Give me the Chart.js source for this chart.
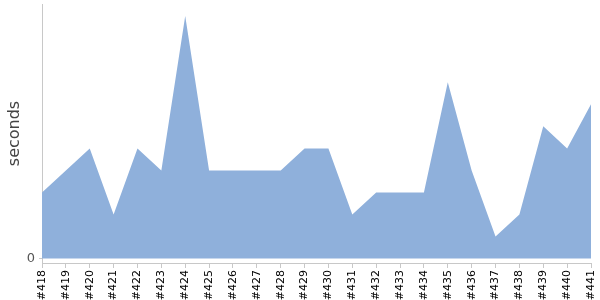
<!DOCTYPE html>
<html>
<head>
<meta charset="utf-8">
<script src="https://cdn.jsdelivr.net/npm/chart.js@4"></script>
<style>
    html, body { margin: 0; padding: 0; background: #fff; }
    #wrap { width: 600px; height: 300px; }
</style>
</head>
<body>
<div id="wrap"><canvas id="buildChart"></canvas></div>
<script>
const builds = ['#418', '#419', '#420', '#421', '#422', '#423', '#424', '#425', '#426', '#427', '#428', '#429',
    '#430', '#431', '#432', '#433', '#434', '#435', '#436', '#437', '#438', '#439', '#440', '#441'];
const durations = [3, 4, 5, 2, 5, 4, 11, 4, 4, 4, 4, 5, 5, 2, 3, 3, 3, 8, 4, 1, 2, 6, 5, 7];
const yTicks = [0];

Chart.defaults.font.family = "'DejaVu Sans', sans-serif";

const ctx = document.getElementById('buildChart').getContext('2d');
new Chart(ctx, {
    type: 'line',
    data: {
        labels: builds,
        datasets: [{
            data: durations,
            fill: 'origin',
            backgroundColor: 'rgb(143,176,219)',
            borderColor: 'rgb(143,176,219)',
            borderWidth: 0,
            pointRadius: 0,
            tension: 0
        }]
    },
    options: {
        responsive: true,
        maintainAspectRatio: false,
        animation: false,
        layout: { padding: { top: 4, right: 9 } },
        plugins: {
            legend: { display: false },
            tooltip: { enabled: false }
        },
        scales: {
            x: {
                offset: false,
                grid: { drawOnChartArea: false, drawTicks: true, tickLength: 5, color: '#c8c8c8' },
                border: { color: '#c8c8c8' },
                ticks: {
                    autoSkip: false,
                    minRotation: 90,
                    maxRotation: 90,
                    padding: 2,
                    color: '#000',
                    font: { size: 11 }
                },
                afterFit: function (axis) {
                    axis.height = 37;
                    axis.paddingLeft = 0;
                    axis.paddingRight = 0;
                }
            },
            y: {
                min: -0.2,
                max: 11.55,
                grid: { drawOnChartArea: false, drawTicks: true, tickLength: 3, color: '#c8c8c8' },
                border: { color: '#c8c8c8' },
                afterBuildTicks: function (axis) {
                    axis.ticks = yTicks.map(v => ({ value: v }));
                },
                ticks: { color: '#555', font: { size: 13 }, padding: 4 },
                title: {
                    display: true,
                    text: 'seconds',
                    color: '#444',
                    font: { size: 16 },
                    padding: { top: 5, bottom: 0 }
                },
                afterFit: function (axis) {
                    axis.width = 42;
                    axis.paddingTop = 0;
                    axis.paddingBottom = 0;
                }
            }
        }
    }
});
</script>
</body>
</html>
